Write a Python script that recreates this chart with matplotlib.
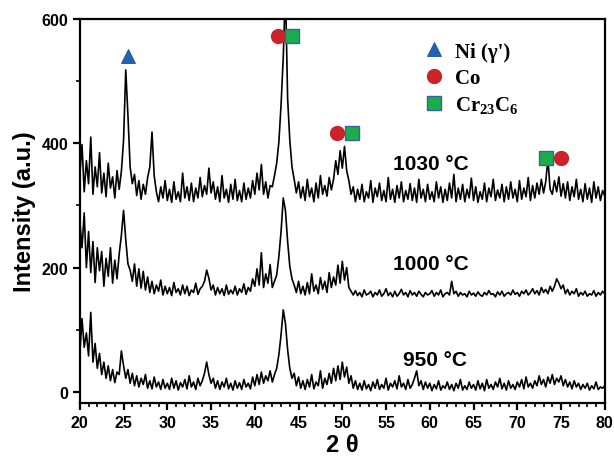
import numpy as np
import matplotlib
matplotlib.use('Agg')
import matplotlib.pyplot as plt
from matplotlib.ticker import MultipleLocator
from matplotlib.lines import Line2D

# XRD traces, one value every 0.25 deg from 20 to 80 (8 values per row = 2 deg)
i1030 = [
    350, 398, 322, 372, 335, 410, 318, 362,   # 20
    330, 385, 320, 352, 314, 368, 328, 346,   # 22
    312, 356, 326, 355, 405, 518, 445, 362,   # 24
    335, 350, 316, 340, 310, 334, 318, 345,   # 26
    362, 418, 348, 322, 306, 330, 312, 340,   # 28
    308, 326, 305, 338, 310, 322, 306, 352,   # 30
    312, 330, 308, 336, 306, 328, 312, 345,   # 32
    314, 332, 318, 360, 320, 338, 310, 330,   # 34
    306, 348, 312, 326, 305, 334, 310, 342,   # 36
    308, 324, 306, 336, 310, 328, 312, 340,   # 38
    318, 352, 325, 366, 318, 338, 312, 332,   # 40
    330, 348, 368, 402, 462, 538, 650, 472,   # 42
    405, 362, 342, 320, 338, 312, 330, 308,   # 44
    342, 314, 328, 306, 336, 312, 348, 318,   # 46
    332, 315, 345, 325, 342, 372, 350, 388,   # 48
    360, 395, 356, 340, 318, 330, 306, 326,   # 50
    310, 334, 306, 322, 312, 340, 305, 328,   # 52
    314, 336, 308, 324, 306, 345, 310, 326,   # 54
    305, 332, 312, 338, 306, 324, 310, 335,   # 56
    308, 328, 305, 342, 312, 326, 306, 334,   # 58
    310, 322, 306, 338, 312, 330, 305, 326,   # 60
    308, 336, 312, 350, 306, 328, 310, 334,   # 62
    306, 326, 312, 344, 308, 330, 305, 322,   # 64
    310, 336, 306, 328, 314, 342, 308, 325,   # 66
    312, 334, 306, 330, 310, 338, 312, 326,   # 68
    306, 340, 310, 328, 314, 345, 308, 332,   # 70
    312, 336, 318, 342, 320, 338, 375, 326,   # 72
    318, 340, 322, 346, 315, 335, 312, 338,   # 74
    308, 330, 314, 342, 310, 326, 306, 335,   # 76
    310, 328, 305, 338, 312, 330, 308, 324,   # 78
    315,
]

i1000 = [
    275, 232, 288, 200, 258, 192, 242, 176,   # 20
    232, 195, 226, 170, 215, 186, 232, 175,   # 22
    212, 182, 222, 252, 292, 245, 206, 196,   # 24
    178, 206, 170, 198, 167, 194, 164, 185,   # 26
    160, 178, 158, 172, 162, 180, 156, 170,   # 28
    158, 168, 155, 176, 160, 166, 156, 172,   # 30
    158, 170, 155, 164, 160, 175, 157, 166,   # 32
    170, 178, 196, 183, 164, 172, 156, 168,   # 34
    158, 166, 155, 172, 157, 164, 158, 170,   # 36
    156, 166, 160, 174, 157, 168, 162, 182,   # 38
    170, 198, 172, 224, 168, 190, 175, 205,   # 40
    168, 178, 188, 218, 258, 312, 292, 242,   # 42
    202, 182, 172, 160, 178, 158, 170, 156,   # 44
    176, 158, 190, 162, 172, 158, 184, 165,   # 46
    178, 160, 192, 168, 185, 172, 204, 175,   # 48
    210, 180, 200, 168, 162, 156, 163, 155,   # 50
    160, 153, 164, 156, 158, 162, 153, 160,   # 52
    156, 164, 154, 158, 166, 155, 160, 153,   # 54
    162, 154, 158, 165, 156, 160, 153, 163,   # 56
    156, 160, 154, 162, 157, 153, 160, 156,   # 58
    158, 163, 154, 160, 156, 164, 153, 158,   # 60
    160, 156, 178, 158, 162, 154, 160, 156,   # 62
    158, 153, 162, 156, 159, 154, 161, 156,   # 64
    154, 160, 156, 163, 157, 158, 153, 161,   # 66
    156, 162, 154, 158, 160, 156, 164, 157,   # 68
    160, 154, 162, 158, 164, 156, 160, 166,   # 70
    158, 163, 156, 168, 160, 165, 158, 170,   # 72
    162, 170, 182, 175, 166, 172, 158, 165,   # 74
    156, 162, 158, 166, 154, 160, 156, 162,   # 76
    154, 158, 156, 163, 154, 160, 156, 162,   # 78
    158,
]

i950 = [
    62, 118, 72, 95, 58, 128, 48, 78,         # 20
    38, 62, 28, 48, 22, 42, 18, 36,           # 22
    15, 32, 28, 66, 42, 22, 36, 14,           # 24
    30, 10, 26, 8, 22, 12, 28, 6,             # 26
    18, 5, 24, 8, 16, 4, 20, 6,               # 28
    14, 4, 22, 6, 18, 3, 15, 8,               # 30
    20, 5, 26, 8, 16, 4, 22, 10,              # 32
    18, 30, 48, 28, 14, 22, 6, 18,            # 34
    4, 16, 8, 22, 5, 14, 3, 18,               # 36
    6, 15, 4, 20, 8, 14, 5, 24,               # 38
    10, 28, 12, 32, 14, 26, 18, 34,           # 40
    16, 28, 38, 60, 92, 132, 110, 68,         # 42
    38, 22, 30, 10, 24, 6, 18, 4,             # 44
    20, 8, 28, 5, 16, 10, 34, 6,              # 46
    22, 12, 30, 14, 38, 18, 42, 20,           # 48
    48, 24, 40, 14, 26, 6, 18, 4,             # 50
    14, 3, 18, 5, 12, 2, 16, 6,               # 52
    20, 4, 12, 6, 22, 3, 14, 8,               # 54
    18, 5, 26, 8, 14, 4, 20, 6,               # 56
    12, 22, 34, 10, 18, 4, 16, 6,             # 58
    14, 2, 12, 5, 18, 3, 10, 6,               # 60
    16, 4, 12, 2, 14, 6, 20, 3,               # 62
    10, 4, 16, 6, 12, 3, 18, 5,               # 64
    14, 2, 20, 6, 12, 4, 16, 8,               # 66
    22, 5, 14, 3, 18, 6, 12, 4,               # 68
    16, 8, 20, 5, 24, 8, 14, 6,               # 70
    18, 10, 26, 12, 20, 8, 24, 14,            # 72
    28, 12, 22, 16, 26, 10, 20, 8,            # 74
    16, 5, 18, 8, 14, 4, 12, 6,               # 76
    14, 3, 10, 5, 16, 4, 8, 6,                # 78
    10,
]

traces = [(i950, '950 \u00b0C'), (i1000, '1000 \u00b0C'), (i1030, '1030 \u00b0C')]
label_pos = [(60.6, 53), (60.1, 207), (60.1, 367)]

# phase markers (2theta, intensity)
ni_pos = [(25.45, 540)]
co_pos = [(42.7, 573), (49.4, 416), (75.0, 376)]
carb_pos = [(44.3, 573), (51.1, 416), (73.3, 376)]

blue = '#1f64b4'
red = '#cc2229'
green = '#1aae4a'

sans = 'Liberation Sans'
serif = 'Liberation Serif'

plt.rcParams['mathtext.fontset'] = 'custom'
plt.rcParams['mathtext.rm'] = 'Liberation Serif:bold'
plt.rcParams['mathtext.it'] = 'Liberation Serif:bold'
plt.rcParams['mathtext.bf'] = 'Liberation Serif:bold'

fig = plt.figure(figsize=(6.14, 4.64), dpi=100)
ax = fig.add_axes([0.130, 0.129, 0.855, 0.828])

for vals, name in traces:
    tt = 20 + 0.25 * np.arange(len(vals))
    ax.plot(tt, vals, color='black', lw=1.2)

for (vals, name), (lx, ly) in zip(traces, label_pos):
    ax.text(lx, ly, name, fontsize=15, fontweight='bold', family=sans,
            ha='center', va='center')

kw = dict(ms=10, ls='none', clip_on=False, zorder=5)
ax.plot(*zip(*ni_pos), marker='^', color=blue, mec='#1b4f8f', mew=0.6, **kw)
ax.plot(*zip(*co_pos), marker='o', color=red, mec=red, **kw)
ax.plot(*zip(*carb_pos), marker='s', color=green, mec='#3a5fa8', mew=1.0, **kw)

handles = [
    Line2D([], [], marker='^', color=blue, mec='#1b4f8f', mew=0.6, ms=10, ls='none'),
    Line2D([], [], marker='o', color=red, mec=red, ms=10, ls='none'),
    Line2D([], [], marker='s', color=green, mec='#3a5fa8', mew=1.0, ms=10, ls='none'),
]
ax.legend(handles, ["Ni (\u03b3')", 'Co', 'Cr$_{23}$C$_{6}$'], loc='upper left',
          bbox_to_anchor=(0.62, 0.99), frameon=False, handlelength=1.0,
          handletextpad=0.5, labelspacing=0.3,
          prop={'family': serif, 'weight': 'bold', 'size': 15})

ax.set_xlim(20, 80)
ax.set_ylim(-18, 600)
ax.xaxis.set_major_locator(MultipleLocator(5))
ax.xaxis.set_minor_locator(MultipleLocator(1))
ax.set_yticks([0, 200, 400, 600])
ax.yaxis.set_minor_locator(MultipleLocator(100))

for s in ax.spines.values():
    s.set_linewidth(1.6)
ax.tick_params(which='major', direction='out', length=5, width=1.6)
ax.tick_params(which='minor', direction='out', length=3, width=1.2)
ax.tick_params(top=False, right=False)
for lab in ax.get_xticklabels() + ax.get_yticklabels():
    lab.set_family(sans)
    lab.set_fontweight('bold')
    lab.set_fontsize(11.5)

ax.set_xlabel('2 \u03b8', family=sans, fontweight='bold', fontsize=17, labelpad=2)
ax.set_ylabel('Intensity (a.u.)', family=sans, fontweight='bold', fontsize=17, labelpad=4)

fig.savefig('out.png', dpi=100)
